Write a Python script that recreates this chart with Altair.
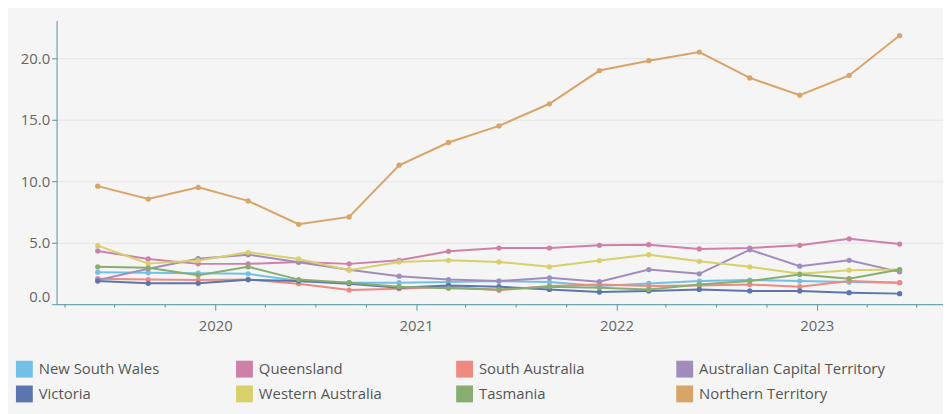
import altair as alt
import pandas as pd

dates = ["2019-06-01", "2019-09-01", "2019-12-01", "2020-03-01", "2020-06-01", "2020-09-01",
         "2020-12-01", "2021-03-01", "2021-06-01", "2021-09-01", "2021-12-01", "2022-03-01",
         "2022-06-01", "2022-09-01", "2022-12-01", "2023-03-01", "2023-06-01"]

# legend order (filled column by column: 2 rows x 4 columns)
states = ["New South Wales", "Victoria", "Queensland", "Western Australia",
          "South Australia", "Tasmania", "Australian Capital Territory", "Northern Territory"]
colors = ["#72c0e8", "#5b76ae", "#cf80a8", "#d8d06a", "#ee8a80", "#88ad6f", "#a18dbd", "#d9a468"]

nsw = [2.6, 2.55, 2.52, 2.47, 1.88, 1.75, 1.75, 1.8, 1.88, 1.8, 1.48, 1.69, 1.88, 1.96, 1.88, 1.8, 1.75]
qld = [4.33, 3.68, 3.28, 3.28, 3.44, 3.28, 3.57, 4.3, 4.57, 4.57, 4.79, 4.84, 4.49, 4.57, 4.79, 5.32, 4.89]
sa = [2.07, 2.0, 1.96, 2.0, 1.67, 1.15, 1.26, 1.42, 1.13, 1.48, 1.6, 1.48, 1.53, 1.6, 1.42, 1.88, 1.75]
act = [1.96, 2.88, 3.7, 4.03, 3.41, 2.8, 2.28, 2.0, 1.88, 2.15, 1.83, 2.82, 2.47, 4.43, 3.09, 3.57, 2.63]
vic = [1.88, 1.7, 1.7, 1.99, 1.88, 1.67, 1.34, 1.53, 1.42, 1.2, 0.99, 1.08, 1.2, 1.08, 1.08, 0.94, 0.86]
wa = [4.76, 3.3, 3.55, 4.22, 3.68, 2.77, 3.44, 3.57, 3.44, 3.04, 3.55, 4.03, 3.49, 3.04, 2.47, 2.77, 2.82]
tas = [3.04, 2.96, 2.36, 3.04, 2.0, 1.75, 1.42, 1.29, 1.2, 1.42, 1.34, 1.2, 1.6, 1.88, 2.42, 2.07, 2.82]
nt = [9.6, 8.55, 9.5, 8.4, 6.5, 7.1, 11.3, 13.15, 14.5, 16.3, 19.0, 19.8, 20.5, 18.4, 17.0, 18.6, 21.85]

series = {
    "New South Wales": nsw, "Queensland": qld, "South Australia": sa,
    "Australian Capital Territory": act, "Victoria": vic, "Western Australia": wa,
    "Tasmania": tas, "Northern Territory": nt,
}

rows = []
for name, vals in series.items():
    for d, v in zip(dates, vals):
        rows.append({"date": d + "T00:00:00", "state": name, "value": v})
df = pd.DataFrame(rows)

# quarter tick positions
tick_vals = []
for y in range(2019, 2024):
    for m in (1, 4, 7, 10):
        if (y == 2019 and m < 4) or (y == 2023 and m > 7):
            continue
        tick_vals.append(alt.DateTime(year=y, month=m, date=1))

teal = "#4f97a3"
font = "Open Sans"

xscale = alt.Scale(domain=[alt.DateTime(year=2019, month=3, date=18),
                           alt.DateTime(year=2023, month=8, date=19)])
yscale = alt.Scale(domain=[0, 23.06], nice=False, zero=True)
cscale = alt.Scale(domain=states, range=colors)

xaxis = alt.Axis(values=tick_vals, title=None, grid=False,
                 labelExpr="month(datum.value) == 0 ? timeFormat(datum.value, '%Y') : ''",
                 tickSize={"condition": {"test": "month(datum.value) == 0", "value": 6}, "value": 3},
                 domainColor=teal, tickColor=teal, labelColor="#666", labelFontSize=15,
                 labelPadding=9, labelFont=font, labelFlush=False)
yaxis = alt.Axis(values=[0, 5, 10, 15, 20], format=".1f", title=None, grid=True,
                 gridColor="#e3e3e3", domainColor=teal, tickColor=teal, tickSize=5,
                 labelColor="#666", labelFontSize=15, labelPadding=2, labelFont=font,
                 labelFlush=True)

legend = alt.Legend(title=None, orient="none", legendX=-41, legendY=343,
                    columns=4, symbolType="square", symbolSize=289,
                    symbolStrokeWidth=0, symbolOpacity=1, gridAlign="all",
                    columnPadding=11, rowPadding=8, labelFontSize=15,
                    labelColor="#555", labelFont=font, labelOffset=6,
                    labelLimit=300)

base = alt.Chart(df).encode(
    x=alt.X("date:T", scale=xscale, axis=xaxis),
    y=alt.Y("value:Q", scale=yscale, axis=yaxis),
)

lines = base.mark_line(strokeWidth=2).encode(
    color=alt.Color("state:N", scale=cscale, legend=legend),
    detail="state:N",
)
points = base.mark_point(filled=True, size=28, opacity=1).encode(
    color=alt.Color("state:N", scale=cscale, legend=legend),
)

chart = alt.layer(lines, points).properties(
    width=894, height=286,
    autosize=alt.AutoSizeParams(type="none"),
    padding={"left": 49, "top": 11, "right": 0, "bottom": 109},
).configure(background="#f5f5f5").configure_view(stroke=None)

chart.save("out.html", embed_options={"renderer": "svg", "actions": False})
